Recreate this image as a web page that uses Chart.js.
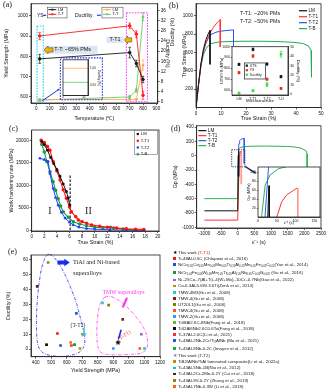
<!DOCTYPE html>
<html><head><meta charset="utf-8">
<script src="https://cdn.jsdelivr.net/npm/chart.js@4.4.1/dist/chart.umd.min.js"></script>
<style>
body{margin:0;background:#fff;width:333px;height:389px;overflow:hidden;position:relative;font-family:"Liberation Sans",Arial,sans-serif}
canvas{position:absolute}
.lab{position:absolute;font-family:"Liberation Serif",serif;font-size:8px;color:#111}
#legE{position:absolute;left:171px;top:248.6px;font-size:4.4px;line-height:6.1px;white-space:nowrap;color:#222}
#legE .m{display:inline-block;width:7px;text-align:center}
#legE .s{display:inline-block;width:2.8px;height:2.8px}
#legE sub{font-size:2.7px;vertical-align:-0.7px}
</style></head><body>
<canvas id="ca" width="172" height="123" style="left:0;top:0"></canvas>
<canvas id="cai" width="42" height="42" style="left:60px;top:57px"></canvas>
<canvas id="cb" width="168" height="123" style="left:165px;top:0"></canvas>
<canvas id="cbi" width="84" height="61" style="left:218px;top:43px"></canvas>
<canvas id="cc" width="165" height="125" style="left:0;top:122px"></canvas>
<canvas id="cd" width="168" height="125" style="left:165px;top:122px"></canvas>
<canvas id="cdi" width="78" height="64" style="left:245px;top:162px"></canvas>
<canvas id="ce" width="168" height="130" style="left:0;top:245px"></canvas>
<div class="lab" style="left:3px;top:0">(a)</div>
<div class="lab" style="left:169px;top:1px">(b)</div>
<div class="lab" style="left:9px;top:124px">(c)</div>
<div class="lab" style="left:171px;top:124px">(d)</div>
<div class="lab" style="left:8px;top:247px">(e)</div>
<div id="legE"></div>
<script>
// (a) yield strength and ductility vs temperature
const temps = [25, 700, 750, 800];
const ysLM = [788, 819, 765, 686];
const ysTT = [901, 951, 910, 608];
const ysErrLM = [22, 26, 16, 16];
const ysErrTT = [18, 14, 16, 20];
const ductLM = [1.0, 1.0, 1.0, 14.5];
const ductTT = [0.7, 2.0, 4.6, 33.5];
const ductErrLM = [0.3, 0.3, 0.3, 2];
const ductErrTT = [0.3, 0.6, 0.8, 1.5];
const tickTemp = [0, 100, 200, 300, 400, 500, 600, 700, 800, 900];
const tickYS = [600, 700, 800, 900, 1000];
const tickDuct = [0, 4, 8, 12, 16, 20, 24, 28, 32, 36];
// (a) inset: room temperature ductility
const insetT = [0, 60];
const insetLM = [1.0, 1.0];
const insetTT = [0.58, 0.58];

// (b) true stress-strain
const strainLM = [0, 1, 2, 3, 4, 5, 5.6, 5.6];
const stressLM = [0, 250, 480, 640, 740, 810, 840, 470];
const strainT1 = [0, 1, 2, 3, 4, 5, 6, 7, 8, 9, 9.7, 9.7];
const stressT1 = [0, 250, 480, 620, 710, 775, 830, 875, 910, 940, 958, 660];
const strainT2 = [0, 1, 2, 3, 4, 5, 6, 8, 10, 12, 15, 15];
const stressT2 = [0, 250, 470, 610, 700, 760, 795, 820, 832, 838, 845, 675];
const strainTB = [0, 1, 2, 3, 4, 5, 6, 8, 10, 15, 20, 25, 30, 35, 40, 43, 45, 46, 46.2];
const stressTB = [0, 240, 450, 580, 640, 675, 695, 708, 715, 720, 722, 722, 720, 716, 708, 695, 670, 620, 330];
const tickStrainB = [0, 10, 20, 30, 40, 50];
const tickStress = [200, 400, 600, 800, 1000];
// (b) inset
const micro = ['LM', 'T-T1', 'T-T2', 'T-O'];
const utsVals = [837, 975, 840, 723];
const ysVals = [760, 914, 700, 615];
const ductVals = [1, 3.5, 10, 42];
const utsErr = [10, 12, 10, 10];
const ysErr = [10, 12, 10, 8];
const ductErr = [0.5, 1, 2, 3];
const tickInsetL = [600, 700, 800, 900, 1000];
const tickInsetR = [0, 10, 20, 30, 40, 50];

// (c) work hardening rate
const whStrainLM = [1.6, 2.0, 2.5, 3.0, 3.5, 4.0, 4.5, 5.0, 5.5, 5.8, 6.05];
const whLM = [19700, 19000, 17800, 16200, 14800, 13500, 12000, 10300, 8600, 7200, 5600];
const whStrainT1 = [1.5, 2.0, 2.5, 2.9, 3.4, 4.0, 4.5, 5.0, 5.5, 6.0, 6.3, 7.0, 7.4, 8.0, 8.7, 9.5, 10.8, 12, 13.5, 15, 16.5, 17.8];
const whT1 = [20000, 19500, 18600, 17800, 15300, 13200, 11200, 9000, 7100, 5200, 4100, 3000, 2300, 1900, 1550, 1200, 900, 700, 500, 350, 250, 200];
const whStrainT2 = [1.3, 2.0, 2.6, 2.9, 3.4, 3.8, 4.2, 4.7, 5.3, 6.0, 6.6, 7.5, 8.7, 10, 12.4, 15, 17.8];
const whT2 = [16000, 15700, 15300, 12600, 9300, 7300, 5600, 4000, 2700, 1800, 1200, 700, 400, 250, 100, 50, 0];
const whStrainTB = [1.6, 2.0, 2.4, 2.9, 3.4, 3.8, 4.2, 4.6, 5.0, 5.8, 6.6, 7.6, 8.7, 10, 11.3, 12.5, 13, 14.5, 16.5];
const whTB = [19100, 17400, 15300, 13000, 10800, 8900, 7000, 5400, 4100, 2900, 1900, 1400, 1000, 700, 500, 700, 500, 300, 100];
const stageLineX = [6.1, 6.1];
const stageLineY = [12200, 0];
const tickStrainC = [0, 2, 4, 6, 8, 10, 12, 14, 16, 18, 20];
const tickWH = [0, 5000, 10000, 15000, 20000];

// (d) Gp curves
const gxLM = [-1000, 0, 26, 29, 30, 30];
const gyLM = [-770, -770, 0, 70, 70, -290];
const gxT1 = [-1000, 0, 50, 63, 77, 95, 104, 106];
const gyT1 = [-900, -900, 0, 34, 50, 60, 65, 65];
const gxT1drop = [106, 106];
const gyT1drop = [65, -400];
const gxT2 = [0, 19, 28, 40, 60, 100, 150, 196, 196];
const gyT2 = [-280, 4, 112, 170, 210, 230, 238, 243, -110];
const gxTB = [-1000, 0, 10, 19, 32, 54, 100, 200, 400, 800, 1200, 1500, 1700, 1900, 2050, 2080, 2085];
const gyTB = [-600, -600, 4, 71, 94, 108, 118, 126, 132, 134, 132, 128, 122, 105, 70, 30, -260];
const tickGx = [-1000, -500, 0, 500, 1000, 1500, 2000, 2500];
const tickGy = [-1000, -800, -600, -400, -200, 0, 200, 400];
const tickGxIn = [0, 50, 100, 150];
const tickGyIn = [20, 40, 60, 80, 100];

// (e) yield strength vs ductility, literature comparison
const refNames = [
  'This work (<span style="color:#f11">T-T1</span>)',
  'Ti-48Al-0.5C (Chlapowi et al., 2016)',
  'NiCo<sub>0.50</sub>Co<sub>0.50</sub>Mn<sub>0.05</sub>Mo<sub>0.05</sub>Ti<sub>0.15</sub>Al<sub>0.15</sub>Mn<sub>0.05</sub>Fe<sub>0.05</sub>C<sub>0.02</sub>(Yan et al., 2014)',
  'NiCr<sub>0.04</sub>Fe<sub>0.08</sub>W<sub>0.08</sub>Mn<sub>1.05</sub>Ti<sub>0.05</sub>Al<sub>0.05</sub>Nb<sub>0.05</sub>C<sub>0.05</sub>B<sub>0.002</sub> (Gu et al., 2016)',
  'Ni–25Co–7(Al+Ti)–4(W+Mo)–10Cr–0.7Nb(Gao et al., 2022)',
  'Co-6.3Al-5.6W-3.6Ti(Zenk et al., 2014)',
  'TMW-4M3(Gu et al., 2008)',
  'TMW-4(Gu et al., 2008)',
  'UT20L1(Gu et al., 2008)',
  'TMW-4(Gu et al., 2008)',
  'TMW-2(Gu et al., 2008)',
  'Ti48Al2.6C-8Nb(Fang et al., 2018)',
  'Ti42Al6Nb2.6C0.6Ta(Fang et al., 2018)',
  'Ti-37Al-2.0C(Li et al., 2021)',
  'Ti-48Al-2Nb-2Cr/Ti<sub>2</sub>AlNb (Ma et al., 2021)',
  'Ti-45Al-8Nb-0.2C (Imayev et al., 2012)',
  'This work (T-T2)',
  'TiB2/AlNb/TiAl laminated composite(Li et al., 2022a)',
  'Ti-43Al-5Nb-1B(Niu et al., 2012)',
  'Ti-43Al-2Cr-2Mn-0.2Y (Cui et al., 2018)',
  'Ti-43Al-9V-0.2Y (Zhang et al., 2019)',
  'Ti-45Al-7Nb-0.3W (Li et al., 2019)'
];
const refColors = ['#000', '#ee1c1c', '#1f4fe0', '#1a9a3a', '#9966cc', '#cc8800', '#22cccc', '#6b2a2a', '#808000', '#ff5511', '#3399ff',
  '#66bb33', '#111', '#ee3333', '#2255ee', '#22aa44', '#9966ff', '#cc8800', '#00cccc', '#5a1a1a', '#8a8a10', '#ff6600'];
const refYS = [930, 540, 560, 650, 1080, 685, 830, 960, 870, 1070, 900, 700, 470, 630, 662, 650, 710, 470, 1100, 410, 480, 625];
const refDuct = [4.5, 10.5, 2.5, 3, 10, 0.5, 31, 20, 29.5, 0.5, 0.5, 10, 3, 2.5, 24, 3, 10, 3, 0.5, 42, 58, 4.5];
const refStar = [true, false, false, false, false, false, false, false, false, false, false, false, false, false, false, false, true, false, false, false, false, false];
const tickYSe = [400, 500, 600, 700, 800, 900, 1000, 1100, 1200];
const tickDucte = [0, 10, 20, 30, 40, 50, 60];

Chart.defaults.font.family = '"Liberation Sans", Arial, sans-serif';
Chart.defaults.color = '#111';

function lin(pos, min, max, ticks, title, size, o) {
  o = o || {};
  const vert = pos === 'left' || pos === 'right';
  return {
    type: o.type || 'linear', position: pos, min, max,
    afterBuildTicks: s => { if (ticks) s.ticks = ticks.map(v => ({value: v})); },
    afterFit: s => { if (vert) s.width = size; else s.height = size; },
    ticks: {font: {size: o.fs || 4.6}, padding: o.tp == null ? 1 : o.tp, color: '#111', maxRotation: 0, autoSkip: false,
      callback: o.fmt || (v => String(v))},
    grid: {drawOnChartArea: false, tickLength: o.tl || 2, color: '#222', lineWidth: 0.7},
    border: {color: '#222', width: 0.8},
    title: {display: !!title, text: title, font: {size: o.tf || 5.3}, padding: {top: o.tpad || 1, bottom: o.tpad || 1}, color: '#111'}
  };
}
function xy(xs, ys) { return xs.map((x, i) => ({x, y: ys[i]})); }
function line(label, data, color, o) {
  return Object.assign({label, data, borderColor: color, backgroundColor: color, borderWidth: 0.9, pointRadius: 0, tension: 0}, o || {});
}

const frame = {id: 'frame', afterDatasetsDraw(c) {
  const a = c.chartArea, g = c.ctx; g.save(); g.strokeStyle = '#222'; g.lineWidth = 0.8;
  g.strokeRect(a.left, a.top, a.right - a.left, a.bottom - a.top); g.restore();
}};
const errBars = {id: 'errBars', afterDatasetsDraw(c) {
  const g = c.ctx;
  c.data.datasets.forEach((ds, di) => {
    if (!ds.errors) return;
    const meta = c.getDatasetMeta(di), sc = c.scales[meta.yAxisID];
    g.save(); g.strokeStyle = ds.borderColor; g.lineWidth = 0.7;
    meta.data.forEach((pt, i) => {
      const v = typeof ds.data[i] === 'object' ? ds.data[i].y : ds.data[i], e = ds.errors[i];
      const y0 = sc.getPixelForValue(v - e), y1 = sc.getPixelForValue(v + e);
      g.beginPath(); g.moveTo(pt.x, y0); g.lineTo(pt.x, y1);
      g.moveTo(pt.x - 1.3, y0); g.lineTo(pt.x + 1.3, y0); g.moveTo(pt.x - 1.3, y1); g.lineTo(pt.x + 1.3, y1); g.stroke();
    });
    g.restore();
  });
}};

function mk(id, datasets, scales, pad, extra, labels) {
  return new Chart(document.getElementById(id), {
    type: 'line', data: {labels, datasets},
    options: {responsive: false, animation: false, devicePixelRatio: 1,
      layout: {autoPadding: false, padding: pad},
      plugins: {legend: {display: false}, tooltip: {enabled: false}},
      scales},
    plugins: [errBars, frame].concat(extra || [])
  });
}

// drawing helpers for annotations
function txt(g, s, x, y, size, color, align, font, bold) {
  g.save(); g.font = (bold ? 'bold ' : '') + size + 'px ' + (font || '"Liberation Sans", Arial, sans-serif');
  g.fillStyle = color || '#111'; g.textAlign = align || 'left'; g.textBaseline = 'middle'; g.fillText(s, x, y); g.restore();
}
function rect(g, x0, y0, x1, y1, color, dash, lw, fill) {
  g.save(); if (fill) { g.fillStyle = fill; g.fillRect(x0, y0, x1 - x0, y1 - y0); }
  if (color) { g.strokeStyle = color; g.lineWidth = lw || 0.8; g.setLineDash(dash || []); g.strokeRect(x0, y0, x1 - x0, y1 - y0); }
  g.restore();
}
function arrow(g, x0, y0, x1, y1, color, lw, head) {
  const a = Math.atan2(y1 - y0, x1 - x0), h = head || 2.5;
  g.save(); g.strokeStyle = color; g.fillStyle = color; g.lineWidth = lw || 1;
  g.beginPath(); g.moveTo(x0, y0); g.lineTo(x1 - Math.cos(a) * h * 0.8, y1 - Math.sin(a) * h * 0.8); g.stroke();
  g.beginPath(); g.moveTo(x1, y1);
  g.lineTo(x1 - h * Math.cos(a - 0.5), y1 - h * Math.sin(a - 0.5));
  g.lineTo(x1 - h * Math.cos(a + 0.5), y1 - h * Math.sin(a + 0.5)); g.closePath(); g.fill(); g.restore();
}
function blockArrow(g, xTail, xTip, y, h, fill, stroke) {
  const d = Math.sign(xTip - xTail), hl = Math.min(Math.abs(xTip - xTail) * 0.45, h * 0.9);
  g.save(); g.beginPath();
  g.moveTo(xTail, y - h * 0.3); g.lineTo(xTip - d * hl, y - h * 0.3); g.lineTo(xTip - d * hl, y - h * 0.55);
  g.lineTo(xTip, y); g.lineTo(xTip - d * hl, y + h * 0.55); g.lineTo(xTip - d * hl, y + h * 0.3); g.lineTo(xTail, y + h * 0.3); g.closePath();
  g.fillStyle = fill; g.fill(); if (stroke) { g.strokeStyle = stroke; g.lineWidth = 0.5; g.stroke(); } g.restore();
}
function smoothClosed(g, pts) {
  const n = pts.length, mid = (p, q) => [(p[0] + q[0]) / 2, (p[1] + q[1]) / 2];
  let m = mid(pts[n - 1], pts[0]); g.beginPath(); g.moveTo(m[0], m[1]);
  for (let i = 0; i < n; i++) { const p = pts[i], q = pts[(i + 1) % n], m2 = mid(p, q); g.quadraticCurveTo(p[0], p[1], m2[0], m2[1]); }
  g.closePath();
}
function legendRows(g, x0, y0, dy, items, lineLen, size) {
  items.forEach((it, i) => {
    const y = y0 + i * dy;
    g.save();
    if (it.marker) { g.fillStyle = it.color; g.fillRect(x0 + lineLen / 2 - 1.1, y - 1.1, 2.2, 2.2); }
    else { g.strokeStyle = it.color; g.lineWidth = it.lw || 1; g.beginPath(); g.moveTo(x0, y); g.lineTo(x0 + lineLen, y); g.stroke();
      if (it.dot) { g.fillStyle = it.color; g.fillRect(x0 + lineLen / 2 - 0.9, y - 0.9, 1.8, 1.8); } }
    g.restore();
    txt(g, it.text, x0 + lineLen + 1.5, y, size);
  });
}

// ---------------- (a) ----------------
mk('ca', [
  line('LM', xy(temps, ysLM), '#1a1a1a', {errors: ysErrLM, pointRadius: 1.3, yAxisID: 'y'}),
  line('T-T', xy(temps, ysTT), '#ff1a1a', {errors: ysErrTT, pointRadius: 1.3, yAxisID: 'y'}),
  line('LM', xy(temps, ductLM), '#ffaa55', {errors: ductErrLM, pointRadius: 1.2, pointStyle: 'rect', yAxisID: 'y1'}),
  line('T-T', xy(temps, ductTT), '#66cc66', {errors: ductErrTT, pointRadius: 1.2, pointStyle: 'rect', yAxisID: 'y1'})
], {
  x: lin('bottom', -40, 910, tickTemp, 'Temperature (℃)', 20),
  y: lin('left', 570, 1060, tickYS, 'Yield Strength (MPa)', 31, {tpad: 3}),
  y1: lin('right', -0.4, 38.6, tickDuct, 'Ductility (%)', 14.3, {tpad: 1})
}, {top: 3.3, left: 0, right: 0, bottom: 0}, [{id: 'annA', afterDatasetsDraw(c) {
  const g = c.ctx, X = v => c.scales.x.getPixelForValue(v), Y = v => c.scales.y.getPixelForValue(v);
  rect(g, X(5), Y(950), X(52), Y(576), '#22d3ee', [1.6, 1.2], 1.1);
  rect(g, X(675), Y(1015), X(833), Y(576), '#ff33ff', [1.6, 1.2], 1);
  rect(g, X(180), Y(793), X(495), Y(586), '#2233ee', [1.6, 1.2], 1.1);
  arrow(g, X(45), Y(581), X(175), Y(640), '#1133ee', 1, 2.5);
  rect(g, X(55), Y(852), X(460), Y(813), null, null, 0, '#dde7f3');
  blockArrow(g, X(125), X(58), Y(832), 7, '#f5b400', '#333');
  txt(g, 'T-T: ~65% PMs', X(135), Y(832), 5.4);
  rect(g, X(525), Y(897), X(655), Y(866), null, null, 0, '#dde7f3');
  txt(g, 'T-T1', X(590), Y(881.5), 5.4, '#111', 'center');
  blockArrow(g, X(715), X(660), Y(881.5), 7, '#f5b400', '#333');
  // legend groups
  txt(g, 'YS', X(5), Y(1003), 5, '#111');
  arrow(g, X(50), Y(1003), X(78), Y(1003), '#2244ee', 1.2, 2.2);
  rect(g, X(82), Y(1043), X(230), Y(990), '#333', null, 0.5, '#fff');
  legendRows(g, X(90), Y(1031), Y(1008) - Y(1031), [{text: 'LM', color: '#1a1a1a', dot: 1}, {text: 'T-T', color: '#ff1a1a', dot: 1}], 8, 4);
  txt(g, 'Ductility', X(290), Y(1003), 5, '#111');
  arrow(g, X(455), Y(1003), X(488), Y(1003), '#2244ee', 1.2, 2.2);
  rect(g, X(492), Y(1043), X(650), Y(990), '#333', null, 0.5, '#fff');
  legendRows(g, X(500), Y(1031), Y(1008) - Y(1031), [{text: 'LM', color: '#ffaa55', dot: 1}, {text: 'T-T', color: '#66cc66', dot: 1}], 8, 4);
}}]);

mk('cai', [
  line('LM', xy(insetT, insetLM), '#ffaa55', {borderWidth: 0.8, yAxisID: 'y'}),
  line('T-T', xy(insetT, insetTT), '#66cc66', {borderWidth: 0.8, yAxisID: 'y'})
], {
  x: lin('bottom', 0, 60, [0, 50], '', 3.5, {fs: 2.8, tl: 0.5, tp: 0}),
  y: lin('right', 0.19, 1.25, [0.5, 1.0], 'Ductility (%)', 14, {fs: 3, tf: 3, tl: 1, fmt: v => v.toFixed(2)})
}, {top: 1, left: 3, right: 0, bottom: 0});

// ---------------- (b) ----------------
mk('cb', [
  line('LM', xy(strainLM, stressLM), '#111', {borderWidth: 1}),
  line('T-T1', xy(strainT1, stressT1), '#ff3333', {borderWidth: 1}),
  line('T-T2', xy(strainT2, stressT2), '#2255ee', {borderWidth: 1}),
  line('T-B', xy(strainTB, stressTB), '#22aa55', {borderWidth: 1})
], {
  x: lin('bottom', 0, 50, tickStrainB, 'True Strain (%)', 15.5),
  y: lin('left', 0, 1130, tickStress, 'True Stress (MPa)', 31, {tpad: 16})
}, {top: 3.3, left: 0, right: 12, bottom: 0}, [{id: 'annB', afterDatasetsDraw(c) {
  const g = c.ctx, X = v => c.scales.x.getPixelForValue(v), Y = v => c.scales.y.getPixelForValue(v);
  txt(g, 'T-T1: ~20% PMs', X(17.6), Y(1022), 5.4, '#222');
  txt(g, 'T-T2: ~50% PMs', X(17.6), Y(935), 5.4, '#222');
  legendRows(g, X(41.2), Y(1054), Y(989) - Y(1054), [
    {text: 'LM', color: '#111', lw: 1.2}, {text: 'T-T1', color: '#ff3333', lw: 1.2},
    {text: 'T-T2', color: '#2255ee', lw: 1.2}, {text: 'T-B', color: '#22aa55', lw: 1.2}], 8, 4.6);
  g.save(); g.translate(8, Y(820)); g.rotate(-Math.PI / 2); txt(g, 'Ductility (%)', 0, 0, 5.3, '#111', 'center'); g.restore();
}}]);

mk('cbi', [
  line('UTS', micro.map((m, i) => utsVals[i]), '#111', {showLine: false, pointRadius: 1.2, pointStyle: 'rect', errors: utsErr, yAxisID: 'y'}),
  line('YS', micro.map((m, i) => ysVals[i]), '#ee2222', {showLine: false, pointRadius: 1.2, pointStyle: 'rect', errors: ysErr, yAxisID: 'y'}),
  line('Ductility', micro.map((m, i) => ductVals[i]), '#33dd33', {showLine: false, pointRadius: 1.2, pointStyle: 'rect', errors: ductErr, yAxisID: 'y1'})
], {
  x: Object.assign(lin('bottom', undefined, undefined, null, 'Microstructure', 9, {fs: 3.6, tf: 4.4, tl: 1.2, tp: 0.5, fmt: function (v) { return micro[v]; }}), {type: 'category', offset: true}),
  y: lin('left', 554, 1000, tickInsetL, 'UTS/YS (MPa)', 14, {fs: 3.4, tf: 4, tl: 1.2}),
  y1: lin('right', -1, 50, tickInsetR, 'Ductility (%)', 14, {fs: 3.4, tf: 4.2, tl: 1.2})
}, {top: 3.7, left: 0, right: 0, bottom: 0}, [{id: 'bgB', beforeDatasetsDraw(c) {
  const a = c.chartArea; c.ctx.save(); c.ctx.fillStyle = '#fff'; c.ctx.fillRect(a.left, a.top, a.right - a.left, a.bottom - a.top); c.ctx.restore();
}, afterDatasetsDraw(c) {
  const g = c.ctx, X = v => c.scales.x.getPixelForValue(v), Y = v => c.scales.y.getPixelForValue(v);
  rect(g, X(0.4), Y(850), X(1.9), Y(702), '#223', null, 0.7, '#fff');
  legendRows(g, X(0.45), Y(825), Y(783) - Y(825), [
    {text: 'UTS', color: '#111', marker: 1}, {text: 'YS', color: '#ee2222', marker: 1}, {text: 'Ductility', color: '#33dd33', marker: 1}], 3, 3.4);
}}], micro);

// ---------------- (c) ----------------
mk('cc', [
  line('LM', xy(whStrainLM, whLM), '#111', {pointRadius: 1.2, pointStyle: 'rect', borderWidth: 1}),
  line('T-T1', xy(whStrainT1, whT1), '#ff1111', {pointRadius: 1.2, borderWidth: 1.1}),
  line('T-T2', xy(whStrainT2, whT2), '#1f3fff', {pointRadius: 1.3, pointStyle: 'triangle', borderWidth: 1}),
  line('T-B', xy(whStrainTB, whTB), '#1a9a4a', {pointRadius: 1.2, borderWidth: 1.1}),
  line('stage', xy(stageLineX, stageLineY), '#222', {borderWidth: 1.2, borderDash: [2.5, 1.5]})
], {
  x: lin('bottom', 0, 20.2, tickStrainC, 'True Strain (%)', 16),
  y: lin('left', -155, 22290, tickWH, 'Work hardening rate (MPa)', 31.7, {tpad: 8})
}, {top: 8, left: 0, right: 6, bottom: 0}, [{id: 'annC', afterDatasetsDraw(c) {
  const g = c.ctx, X = v => c.scales.x.getPixelForValue(v), Y = v => c.scales.y.getPixelForValue(v);
  txt(g, 'I', X(2.9), Y(4100), 10, '#222', 'center', '"Liberation Serif", serif');
  txt(g, 'II', X(9.0), Y(4100), 10, '#222', 'center', '"Liberation Serif", serif');
  rect(g, X(16.3), Y(22200), X(20.0), Y(16900), '#555', null, 0.5, '#fff');
  legendRows(g, X(16.6), Y(21400), Y(19900) - Y(21400), [
    {text: 'LM', color: '#111', marker: 1}, {text: 'T-T1', color: '#ff1111', marker: 1},
    {text: 'T-T2', color: '#1f3fff', marker: 1}, {text: 'T-B', color: '#1a9a4a', marker: 1}], 3, 4.2);
}}]);

// ---------------- (d) ----------------
const dSets = () => [
  line('LM', xy(gxLM, gyLM), '#111', {borderWidth: 1}),
  line('T-T1', xy(gxT1, gyT1), '#ff3333', {borderWidth: 1}),
  line('drop', xy(gxT1drop, gyT1drop), '#ff9c9c', {borderWidth: 1.8}),
  line('T-T2', xy(gxT2, gyT2), '#2f5ff0', {borderWidth: 1}),
  line('T-B', xy(gxTB, gyTB), '#2eb050', {borderWidth: 1})
];
mk('cd', dSets(), {
  x: lin('bottom', -1230, 2500, tickGx, 'ε̇⁻¹ (s)', 19),
  y: lin('left', -1010, 418, tickGy, 'Gp (MPa)', 31.7, {tpad: 7})
}, {top: 3, left: 0, right: 12, bottom: 0}, [{id: 'annD', afterDatasetsDraw(c) {
  const g = c.ctx, X = v => c.scales.x.getPixelForValue(v), Y = v => c.scales.y.getPixelForValue(v);
  rect(g, X(-180), Y(83), X(217), Y(-156), '#222', [1.3, 1], 0.8);
  arrow(g, X(220), Y(-150), X(560), Y(-250), '#1a2a66', 1.4, 3);
  legendRows(g, X(-1180), Y(350), Y(280) - Y(350), [
    {text: 'LM', color: '#111', lw: 1.2}, {text: 'T-T1', color: '#ff3333', lw: 1.2},
    {text: 'T-T2', color: '#2f5ff0', lw: 1.2}, {text: 'T-B', color: '#2eb050', lw: 1.2}], 8, 4.6);
}}]);

mk('cdi', dSets(), {
  x: lin('bottom', 0, 165, tickGxIn, 'ε̇⁻¹ (s)', 9, {fs: 3.5, tf: 4, tl: 1.2, tp: 0.5}),
  y: lin('left', 0, 112, tickGyIn, 'Gp (MPa)', 13, {fs: 3.5, tf: 4, tl: 1.2})
}, {top: 5, left: 0, right: 3, bottom: 0}, [{id: 'bgD', beforeDatasetsDraw(c) {
  const a = c.chartArea; c.ctx.save(); c.ctx.fillStyle = '#fff'; c.ctx.fillRect(a.left, a.top, a.right - a.left, a.bottom - a.top); c.ctx.restore();
}}]);

// ---------------- (e) ----------------
function starImg(color, r) {
  const s = Math.ceil(r * 2) + 2, cv = document.createElement('canvas'); cv.width = cv.height = s;
  const g = cv.getContext('2d'); g.fillStyle = color; g.beginPath();
  for (let i = 0; i < 10; i++) { const a = -Math.PI / 2 + i * Math.PI / 5, rr = i % 2 ? r * 0.45 : r; g.lineTo(s / 2 + rr * Math.cos(a), s / 2 + rr * Math.sin(a)); }
  g.closePath(); g.fill(); return cv;
}
const blueGroup = [[470, 63.5], [440, 56], [418, 42], [405, 25], [405, 8], [420, 0], [460, -3.5], [540, -5], [620, -4.5], [690, -2], [718, 3],
  [714, 10], [700, 16], [680, 24], [660, 32], [630, 40], [590, 50], [540, 59], [500, 63.5]];
const pinkGroup = [[830, 34], [805, 28], [792, 15], [795, 3], [815, -3], [900, -4], [1000, -3.5], [1080, -3], [1118, 0], [1122, 6], [1105, 13],
  [1060, 20], [1010, 26], [960, 31], [900, 35], [860, 35.5]];
mk('ce', refNames.map((n, i) => ({
  label: n, data: [{x: refYS[i], y: refDuct[i]}], showLine: false, borderColor: refColors[i], backgroundColor: refColors[i],
  pointStyle: refStar[i] ? starImg(refColors[i], 3) : 'rect', pointRadius: 1.9, pointBorderWidth: 0
})), {
  x: lin('bottom', 370, 1200, tickYSe, 'Yield Strength (MPa)', 18.3),
  y: lin('left', -5, 63, tickDucte, 'Ductility (%)', 31, {tpad: 5})
}, {top: 10, left: 0, right: 8, bottom: 0}, [{id: 'annE', beforeDatasetsDraw(c) {
  const g = c.ctx, P = p => [c.scales.x.getPixelForValue(p[0]), c.scales.y.getPixelForValue(p[1])];
  g.save(); g.lineWidth = 0.9; g.setLineDash([3, 1.3, 0.7, 1.3]);
  g.strokeStyle = '#2a3ae8'; smoothClosed(g, blueGroup.map(P)); g.stroke();
  g.strokeStyle = '#ff44ee'; smoothClosed(g, pinkGroup.map(P)); g.stroke();
  g.restore();
}, afterDatasetsDraw(c) {
  const g = c.ctx, X = v => c.scales.x.getPixelForValue(v), Y = v => c.scales.y.getPixelForValue(v);
  const serif = '"Liberation Serif", serif';
  blockArrow(g, X(540), X(620), Y(58), 7, '#1530ee');
  txt(g, 'TiAl and Ni-based', X(640), Y(58), 6.3, '#222', 'left', serif);
  txt(g, 'superalloys', X(640), Y(51), 6.3, '#222', 'left', serif);
  txt(g, 'TMW superalloys', X(830), Y(38), 5.8, '#ff33ee', 'left', serif);
  arrow(g, X(960), Y(28), X(990), Y(35), '#ff33ee', 2.2, 3.5);
  txt(g, '(T-T2)', X(672), Y(16), 5.6, '#333', 'center', serif);
  arrow(g, X(712), Y(14), X(712), Y(8.5), '#22d3ee', 1.4, 2.5);
  g.save(); g.translate(X(970), Y(9)); g.rotate(-0.6); txt(g, '(T-T1)', 0, 0, 5.6, '#ff3333', 'center', serif); g.restore();
  arrow(g, X(950), Y(13), X(932), Y(6.5), '#1530ee', 1.6, 2.8);
}}]);

// (e) legend
document.getElementById('legE').innerHTML = refNames.map((n, i) =>
  '<div><span class="m">' + (refStar[i] ? '<span style="color:' + refColors[i] + ';font-size:5px">★</span>'
    : '<span class="s" style="background:' + refColors[i] + '"></span>') + '</span>' + n + '</div>').join('');
</script>
</body></html>
